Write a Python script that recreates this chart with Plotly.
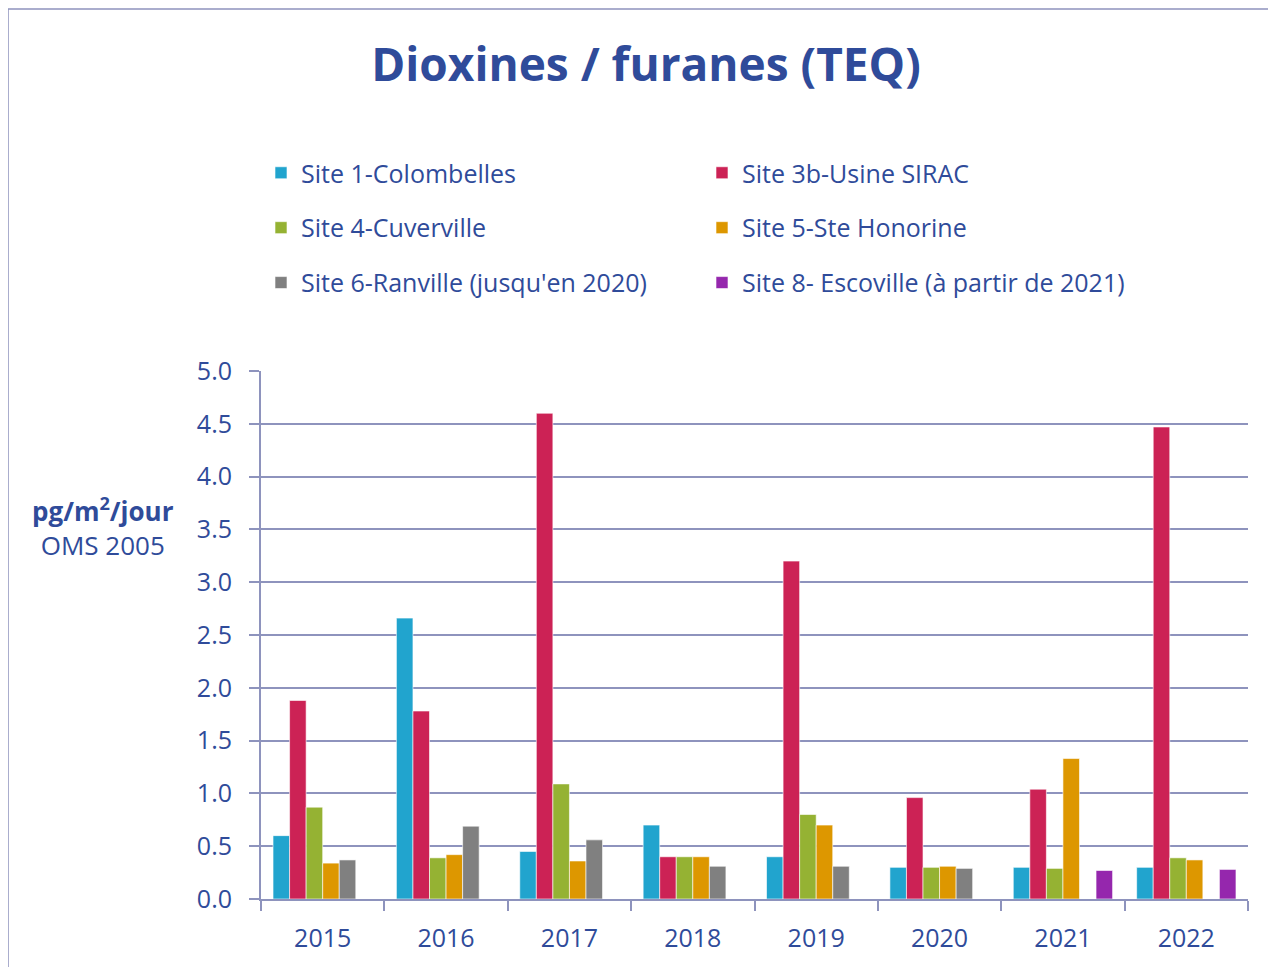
import plotly.graph_objects as go

years = ["2015", "2016", "2017", "2018", "2019", "2020", "2021", "2022"]
site1 = [0.60, 2.66, 0.45, 0.70, 0.40, 0.30, 0.30, 0.30]
site3b = [1.88, 1.78, 4.60, 0.40, 3.20, 0.96, 1.04, 4.47]
site4 = [0.87, 0.39, 1.09, 0.40, 0.80, 0.30, 0.29, 0.39]
site5 = [0.34, 0.42, 0.36, 0.40, 0.70, 0.31, 1.33, 0.37]
site6 = [0.37, 0.69, 0.56, 0.31, 0.31, 0.29, None, None]
site8 = [None, None, None, None, None, None, 0.27, 0.28]

names = ["Site 1-Colombelles", "Site 3b-Usine SIRAC", "Site 4-Cuverville",
         "Site 5-Ste Honorine", "Site 6-Ranville (jusqu'en 2020)",
         "Site 8- Escoville (à partir de 2021)"]
series = [site1, site3b, site4, site5, site6, site8]
colors = ["#21A4CE", "#CC2255", "#95B233", "#DD9700", "#808080", "#9527AD"]
legends = ["legend", "legend", "legend2", "legend2", "legend3", "legend3"]

TXT = "#2F4B9A"
GRID = "#8E93BD"
FONT = "Open Sans"

fig = go.Figure()
for n, s, c, lg in zip(names, series, colors, legends):
    fig.add_trace(go.Bar(x=years, y=s, name=n, marker=dict(color=c, line=dict(color="white", width=0.6)),
                         legend=lg))

def leg(y):
    return dict(orientation="h", x=0.0, y=y, xanchor="left", yanchor="middle",
                entrywidth=396, entrywidthmode="pixels", itemwidth=30,
                font=dict(family=FONT, size=25, color=TXT), bgcolor="rgba(0,0,0,0)",
                traceorder="normal")

fig.update_layout(
    width=1276, height=967,
    margin=dict(l=253, r=36, t=363, b=76),
    paper_bgcolor="white", plot_bgcolor="white",
    barmode="group", bargap=0.195, bargroupgap=0,
    title=dict(text="<b>Dioxines / furanes (TEQ)</b>", x=0.5, xanchor="center",
               y=0.941, yanchor="middle", font=dict(family=FONT, size=46, color=TXT)),
    legend=leg(1.375), legend2=leg(1.271), legend3=leg(1.167),
    font=dict(family=FONT, color=TXT),
    xaxis=dict(type="category", tickson="boundaries", ticks="outside", ticklen=10,
               tickcolor=GRID, tickwidth=2, showline=True, linecolor=GRID, linewidth=2,
               tickfont=dict(family=FONT, size=25, color=TXT), ticklabelstandoff=16,
               showgrid=False),
    yaxis=dict(range=[0, 5], dtick=0.5, tickformat=".1f", ticks="outside", ticklen=10,
               tickcolor=GRID, tickwidth=2, showline=True, linecolor=GRID, linewidth=2,
               showgrid=True, gridcolor=GRID, gridwidth=2, zeroline=False,
               tickfont=dict(family=FONT, size=25, color=TXT), ticklabelstandoff=12),
    annotations=[dict(text="<b>pg/m<sup>2</sup>/jour</b><br>OMS 2005", xref="paper", yref="paper",
                      x=(103 - 261) / 987, y=1 + (371 - 527) / 528, xanchor="center", yanchor="middle",
                      showarrow=False, align="center", font=dict(family=FONT, size=26, color=TXT))],
    shapes=[dict(type="rect", xref="paper", yref="paper", x0=(8 - 261) / 987, x1=1.1,
                 y0=-0.3, y1=1 + (371 - 9) / 528, line=dict(color=GRID, width=1.5), layer="below")],
)

fig.write_html("out.html")
